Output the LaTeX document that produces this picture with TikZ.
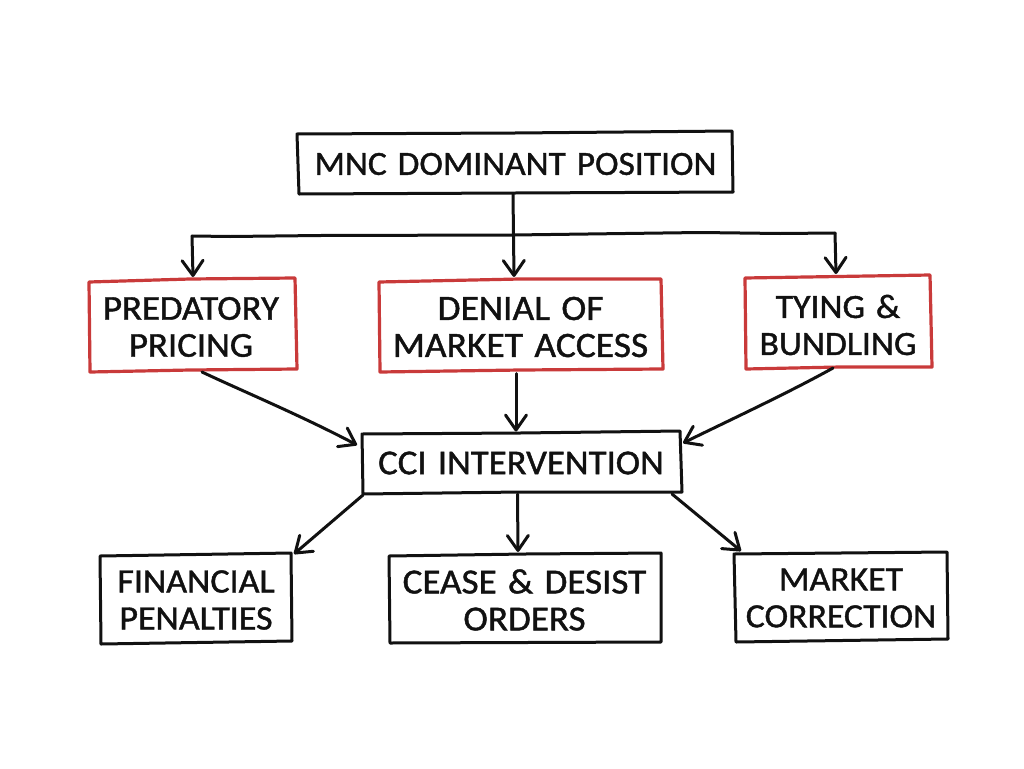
\documentclass[tikz,border=0pt]{standalone}
\usepackage{fontspec}
\setmainfont{Carlito}[FakeBold=1.2,FakeStretch=1.05,WordSpace=1.35]
\usetikzlibrary{arrows.meta,calc}
\definecolor{ink}{HTML}{111111}
\definecolor{redline}{HTML}{C93A3A}
\tikzset{
  every picture/.style={x=1pt,y=-1pt},
  label/.style={align=center,inner sep=0pt,outer sep=0pt,text=ink,
    font=\fontsize{#1}{37}\selectfont},
  label/.default=35,
  outline/.style={draw=ink,line width=3pt,line join=round,line cap=round},
  redoutline/.style={outline,draw=redline,line width=3.2pt},
  wire/.style={draw=ink,line width=3pt,line cap=round,line join=round},
  arrow/.style={wire,-{Straight Barb[length=15pt,width=21pt,line cap=round,line join=round]}}
}
\begin{document}
\begin{tikzpicture}
\useasboundingbox (0,0) rectangle (1024,768);
% labels
\node[label=33.8,minimum width=435pt,minimum height=61pt] (top) at (515.5,164) {MNC DOMINANT POSITION};
\node[label=35,minimum width=207pt,minimum height=91pt] (pred) at (191,327) {PREDATORY\\PRICING};
\node[label=35.7,minimum width=283pt,minimum height=91pt] (deny) at (520.5,327) {DENIAL OF\\MARKET ACCESS};
\node[label=34,minimum width=186pt,minimum height=91pt] (tying) at (838,325) {TYING \&\\BUNDLING};
\node[label=35,minimum width=319pt,minimum height=61pt] (cci) at (521,463) {CCI INTERVENTION};
\node[label=34.3,minimum width=191pt,minimum height=88pt] (fin) at (196,600) {FINANCIAL\\PENALTIES};
\node[label=35.3,minimum width=272pt,minimum height=88pt] (cease) at (524.5,600) {CEASE \& DESIST\\ORDERS};
\node[label=34,minimum width=213pt,minimum height=88pt] (market) at (841,598) {MARKET\\CORRECTION};
% outlines
\draw[outline] (297,134) -- (515,133) -- (732,131) -- (733,192) -- (515,193) -- (299,194) -- cycle;
\draw[redoutline] (89,282) -- (190,279) -- (295,278) -- (297,369) -- (190,370) -- (90,372) -- cycle;
\draw[redoutline] (379,282) -- (520,279) -- (661,279) -- (663,369) -- (520,370) -- (380,372) -- cycle;
\draw[redoutline] (745,278) -- (930,275) -- (932,367) -- (840,367) -- (746,369) -- cycle;
\draw[outline] (362,434) -- (520,433) -- (680,431) -- (682,492) -- (520,492) -- (363,494) -- cycle;
\draw[outline] (100,556) -- (291,553) -- (292,641) -- (101,644) -- cycle;
\draw[outline] (389,556) -- (525,554) -- (661,553) -- (661,642) -- (390,643) -- cycle;
\draw[outline] (734,554) -- (947,552) -- (948,639) -- (736,642) -- cycle;
% bar
\coordinate (barL) at (192,236);
\coordinate (barR) at (835,233);
\draw[wire] (barL) -- (230,236.5) -- (320,235.5) -- (513,235) -- (700,232.5) -- (780,233.5) -- (barR);
% connectors
\draw[arrow] ($(top.south)+(-2.5,0)$) -- ($(deny.north)+(-6.5,-4.5)$);
\draw[arrow] (barL) -- ($(pred.north)+(2,-4.5)$);
\draw[arrow] (barR) -- ($(tying.north)+(-2,-5.5)$);
\draw[arrow] ($(pred.south)+(11,-0.5)$) .. controls (240,390) and (300,415) .. ($(cci.west)+(-4.5,-18)$);
\draw[arrow] ($(deny.south)+(-4.5,1)$) -- ($(cci.north)+(-5,-1)$);
\draw[arrow] ($(tying.south)+(-5,-2.5)$) .. controls (790,392) and (730,420) .. ($(cci.east)+(2.5,-20)$);
\draw[arrow] ($(cci.south west)+(1.5,1.5)$) -- ($(fin.north east)+(2.5,-2)$);
\draw[arrow] ($(cci.south)+(-3.5,0.5)$) -- ($(cease.north)+(-6.5,-4)$);
\draw[arrow] ($(cci.south east)+(-8.5,0.5)$) -- ($(market.north west)+(6.5,-3)$);
\end{tikzpicture}
\end{document}
